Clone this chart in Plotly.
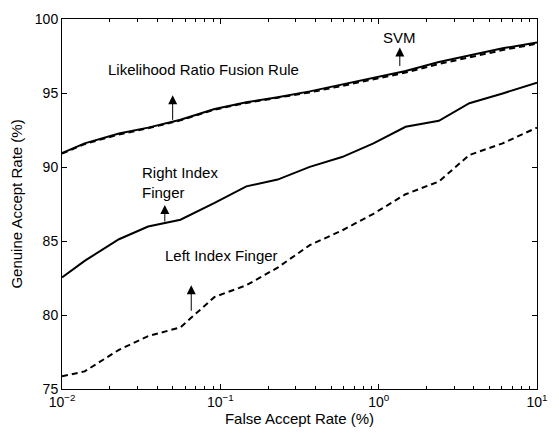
import plotly.graph_objects as go
import math

far = [0.01, 0.0139, 0.0229, 0.035, 0.056, 0.092, 0.146, 0.23, 0.367, 0.587, 0.927, 1.48, 2.40, 3.74, 6.07, 10.0]
fusion = [90.94, 91.60, 92.26, 92.66, 93.19, 93.92, 94.38, 94.71, 95.11, 95.57, 96.03, 96.49, 97.09, 97.55, 98.02, 98.41]
svm = [90.90, 91.55, 92.20, 92.62, 93.15, 93.88, 94.33, 94.66, 95.04, 95.48, 95.93, 96.38, 96.96, 97.42, 97.90, 98.33]
right_index = [82.54, 83.66, 85.12, 85.98, 86.44, 87.57, 88.69, 89.15, 90.01, 90.67, 91.60, 92.72, 93.12, 94.31, 94.97, 95.70]
left_index = [75.86, 76.19, 77.65, 78.57, 79.17, 81.22, 82.01, 83.20, 84.72, 85.71, 86.84, 88.16, 89.02, 90.81, 91.60, 92.66]

x_tickvals = [0.01, 0.1, 1, 10]
x_ticktext = ["10<sup>\u22122</sup>", "10<sup>\u22121</sup>", "10<sup>0</sup>", "10<sup>1</sup>"]
x_minor = [m * 10 ** e for e in (-2, -1, 0) for m in range(2, 10)]
y_tickvals = [75, 80, 85, 90, 95, 100]

FONT = "Liberation Sans, Arial, Helvetica, sans-serif"

fig = go.Figure()
fig.add_trace(go.Scatter(x=far, y=svm, mode="lines", name="SVM",
                         line=dict(color="black", width=2, dash="6px,4px")))
fig.add_trace(go.Scatter(x=far, y=fusion, mode="lines", name="Likelihood Ratio Fusion Rule",
                         line=dict(color="black", width=2)))
fig.add_trace(go.Scatter(x=far, y=right_index, mode="lines", name="Right Index Finger",
                         line=dict(color="black", width=2)))
fig.add_trace(go.Scatter(x=far, y=left_index, mode="lines", name="Left Index Finger",
                         line=dict(color="black", width=2, dash="6px,4px")))

def lg(v):
    return math.log10(v)

text_notes = [
    dict(x=lg(0.0778), y=96.56, text="Likelihood Ratio Fusion Rule", xanchor="center"),
    dict(x=lg(1.36), y=98.74, text="SVM", xanchor="center"),
    dict(x=lg(0.0313), y=88.96, text="Right Index<br>Finger", xanchor="left", align="left"),
    dict(x=lg(0.1018), y=84.0, text="Left Index Finger", xanchor="center"),
]
for n in text_notes:
    fig.add_annotation(showarrow=False, yanchor="middle",
                       font=dict(family=FONT, size=15, color="black"), **n)

arrows = [
    (lg(0.05), 94.84, 26),
    (lg(1.36), 98.08, 20),
    (lg(0.0446), 87.43, 18),
    (lg(0.0655), 82.01, 27),
]
for ax_x, tip_y, length in arrows:
    fig.add_annotation(x=ax_x, y=tip_y, ax=0, ay=length, text="", showarrow=True,
                       arrowhead=2, arrowsize=1.8, arrowwidth=1, arrowcolor="black")

axis_common = dict(showgrid=False, zeroline=False, showline=True, linecolor="black",
                   linewidth=1, mirror="allticks", ticks="inside", ticklen=5,
                   tickcolor="black", tickfont=dict(family=FONT, size=14, color="black"))

fig.update_xaxes(type="log", range=[-2, 1], tickvals=x_tickvals, ticktext=x_ticktext,
                 minor=dict(ticks="inside", ticklen=3, tickcolor="black", showgrid=False,
                            tickmode="array", tickvals=x_minor),
                 title=dict(text="False Accept Rate (%)", font=dict(family=FONT, size=15, color="black"), standoff=2),
                 **axis_common)
fig.update_yaxes(range=[75, 100], tickvals=y_tickvals,
                 title=dict(text="Genuine Accept Rate (%)", font=dict(family=FONT, size=15, color="black"), standoff=8),
                 **axis_common)

fig.update_layout(width=559, height=434, margin=dict(l=62, r=13, t=11, b=45),
                  paper_bgcolor="white", plot_bgcolor="white", showlegend=False,
                  font=dict(family=FONT, color="black"))

fig.write_html("out.html")
